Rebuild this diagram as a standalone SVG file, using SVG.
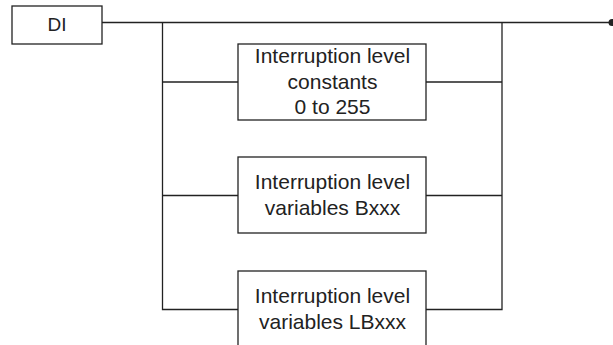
<svg xmlns="http://www.w3.org/2000/svg" width="613" height="345" viewBox="0 0 613 345">
<style>
.box{fill:#fff;stroke:#222;stroke-width:1.3}
.ln{fill:none;stroke:#222;stroke-width:1.3}
text{font-family:"Liberation Sans",Arial,sans-serif;fill:#222;text-anchor:middle}
.t{font-size:21px}
</style>
<rect width="613" height="345" fill="#fff"/>
<g id="connectors">
<path class="ln" d="M102 22.5H612"/>
<path class="ln" d="M162.5 22.5V309.5H238"/>
<path class="ln" d="M502 22.5V309.5H426"/>
<path class="ln" d="M162.5 82H238M426 82H502"/>
<path class="ln" d="M162.5 195.5H238M426 195.5H502"/>
<circle cx="612" cy="22.5" r="3.5" fill="#222"/>
</g>
<g id="di">
<rect class="box" x="12" y="6" width="90" height="38"/>
<text x="57" y="31" style="font-size:19px">DI</text>
</g>
<g id="constants">
<rect class="box" x="238" y="44" width="188" height="76"/>
<text class="t" x="332.5" y="63">Interruption level</text>
<text class="t" x="332.5" y="89">constants</text>
<text class="t" x="332.5" y="114">0 to 255</text>
</g>
<g id="bxxx">
<rect class="box" x="238" y="157" width="188" height="76"/>
<text class="t" x="332.5" y="189">Interruption level</text>
<text class="t" x="332.5" y="215">variables Bxxx</text>
</g>
<g id="lbxxx">
<rect class="box" x="238" y="271" width="188" height="90"/>
<text class="t" x="332.5" y="303">Interruption level</text>
<text class="t" x="332.5" y="329">variables LBxxx</text>
</g>
</svg>
